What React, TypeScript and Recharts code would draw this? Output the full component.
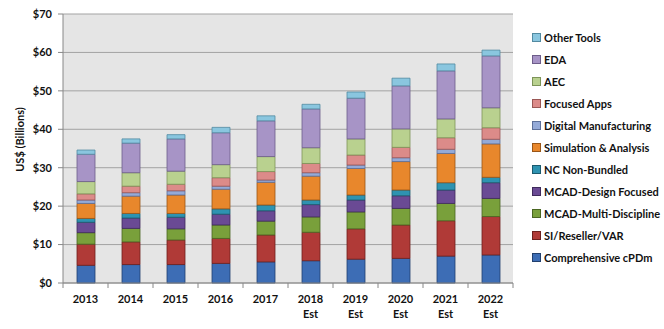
import { BarChart, Bar, XAxis, YAxis, CartesianGrid } from 'recharts';

// Years shown on the x axis; forecast years get an "Est" second line
const YEARS = ['2013', '2014', '2015', '2016', '2017', '2018', '2019', '2020', '2021', '2022'];
const ESTIMATED = ['2018', '2019', '2020', '2021', '2022'];

// Segment values (US$ billions), bottom of the stack first
const COMPREHENSIVE_CPDM = [4.6, 4.8, 4.8, 5.1, 5.5, 5.8, 6.2, 6.4, 7.0, 7.3];
const SI_RESELLER_VAR = [5.5, 5.9, 6.4, 6.5, 7.0, 7.4, 7.9, 8.7, 9.2, 10.0];
const MCAD_MULTI = [3.0, 3.5, 2.9, 3.5, 3.6, 4.0, 4.4, 4.3, 4.5, 4.7];
const MCAD_DESIGN = [2.7, 2.7, 3.0, 2.8, 2.7, 3.2, 3.1, 3.3, 3.5, 4.1];
const NC_NON_BUNDLED = [1.0, 1.2, 1.0, 1.4, 1.5, 1.2, 1.3, 1.5, 1.9, 1.4];
const SIMULATION = [3.9, 4.5, 4.8, 5.1, 5.9, 6.2, 6.9, 7.4, 7.6, 8.7];
const DIGITAL_MFG = [0.9, 0.9, 1.1, 0.8, 0.6, 0.9, 0.9, 1.0, 1.1, 1.2];
const FOCUSED_APPS = [1.6, 1.7, 1.7, 2.2, 2.2, 2.4, 2.6, 2.7, 3.0, 3.0];
const AEC = [3.2, 3.5, 3.4, 3.4, 3.9, 4.1, 4.2, 4.8, 4.9, 5.2];
const EDA = [7.1, 7.7, 8.4, 8.3, 9.3, 10.1, 10.6, 11.2, 12.5, 13.5];
const OTHER_TOOLS = [1.1, 1.1, 1.1, 1.4, 1.3, 1.2, 1.6, 2.0, 1.8, 1.5];

const Y_TICKS = [0, 10, 20, 30, 40, 50, 60, 70];

const SERIES = [
  { key: 'cpdm', name: 'Comprehensive cPDm', values: COMPREHENSIVE_CPDM, color: '#3d6db5', edge: '#22406e' },
  { key: 'si', name: 'SI/Reseller/VAR', values: SI_RESELLER_VAR, color: '#b03a37', edge: '#6e1f1d' },
  { key: 'multi', name: 'MCAD-Multi-Discipline', values: MCAD_MULTI, color: '#79a03b', edge: '#4a6622' },
  { key: 'design', name: 'MCAD-Design Focused', values: MCAD_DESIGN, color: '#6a4a94', edge: '#3f2a5c' },
  { key: 'nc', name: 'NC Non-Bundled', values: NC_NON_BUNDLED, color: '#2e93b1', edge: '#1b5a6d' },
  { key: 'sim', name: 'Simulation & Analysis', values: SIMULATION, color: '#e8872c', edge: '#9a5618' },
  { key: 'dm', name: 'Digital Manufacturing', values: DIGITAL_MFG, color: '#94aad8', edge: '#5c6f99' },
  { key: 'focused', name: 'Focused Apps', values: FOCUSED_APPS, color: '#dc8b89', edge: '#9a5755' },
  { key: 'aec', name: 'AEC', values: AEC, color: '#b9d18f', edge: '#7d9458' },
  { key: 'eda', name: 'EDA', values: EDA, color: '#a794c6', edge: '#6d5d8a' },
  { key: 'other', name: 'Other Tools', values: OTHER_TOOLS, color: '#8ac6df', edge: '#528aa1' },
];

const FONT = 'Lato, "Open Sans", sans-serif';

const data = YEARS.map((year, i) => {
  const row: Record<string, string | number> = { year };
  SERIES.forEach((s) => {
    row[s.key] = s.values[i];
  });
  return row;
});

const YearTick = ({ x, y, payload }: { x: number; y: number; payload: { value: string } }) => {
  const half = 22.5;
  const isEst = ESTIMATED.includes(payload.value);
  return (
    <g>
      <line x1={x - half} y1={y - 8} x2={x - half} y2={y - 3} stroke="#888" />
      {payload.value === YEARS[YEARS.length - 1] && (
        <line x1={x + half} y1={y - 8} x2={x + half} y2={y - 3} stroke="#888" />
      )}
      <text x={x} y={y + 12} textAnchor="middle" fontFamily={FONT} fontWeight={700} fontSize={11} fill="#111">
        {payload.value}
      </text>
      {isEst && (
        <text x={x} y={y + 27} textAnchor="middle" fontFamily={FONT} fontWeight={700} fontSize={11} fill="#111">
          Est
        </text>
      )}
    </g>
  );
};

const YLabel = ({ viewBox }: { viewBox?: { x: number; y: number; width: number; height: number } }) => {
  const cy = viewBox ? viewBox.y + viewBox.height / 2 - 9 : 140;
  return (
    <text
      x={19}
      y={cy}
      transform={`rotate(-90, 19, ${cy})`}
      textAnchor="middle"
      dominantBaseline="central"
      fontFamily={FONT}
      fontWeight={700}
      fontSize={11}
      fill="#111"
    >
      US$ (Billions)
    </text>
  );
};

export default function App() {
  const legendItems = [...SERIES].reverse();
  return (
    <div style={{ position: 'relative', width: 664, height: 329, background: '#fff', fontFamily: FONT }}>
      <style>{`body { margin: 0; }`}</style>
      <BarChart
        width={664}
        height={329}
        data={data}
        margin={{ top: 14, right: 151, bottom: 6, left: 0 }}
        barSize={18}
      >
        <CartesianGrid vertical={false} fill="#e5e5e5" stroke="#a3a3a3" />
        <XAxis
          dataKey="year"
          height={40}
          tickLine={false}
          axisLine={{ stroke: '#888' }}
          tick={YearTick}
          interval={0}
        />
        <YAxis
          width={63}
          domain={[0, 70]}
          ticks={Y_TICKS}
          tickFormatter={(v: number) => `$${v}`}
          tick={{ fontFamily: FONT, fontWeight: 700, fontSize: 11, fill: '#111' }}
          tickSize={5}
          tickMargin={6}
          tickLine={{ stroke: '#888' }}
          axisLine={{ stroke: '#888' }}
          label={<YLabel />}
        />
        {SERIES.map((s) => (
          <Bar
            key={s.key}
            dataKey={s.key}
            name={s.name}
            stackId="total"
            fill={s.color}
            stroke={s.edge}
            strokeWidth={0.8}
            isAnimationActive={false}
          />
        ))}
      </BarChart>
      <div style={{ position: 'absolute', left: 532, top: 26 }}>
        {legendItems.map((s) => (
          <div
            key={s.key}
            style={{ display: 'flex', alignItems: 'center', height: 22.1, fontSize: 11, fontWeight: 700, color: '#111' }}
          >
            <span
              style={{
                width: 7,
                height: 7,
                background: s.color,
                border: `1px solid ${s.edge}`,
                marginRight: 3,
                flexShrink: 0,
              }}
            />
            <span style={{ whiteSpace: 'nowrap' }}>{s.name}</span>
          </div>
        ))}
      </div>
    </div>
  );
}
